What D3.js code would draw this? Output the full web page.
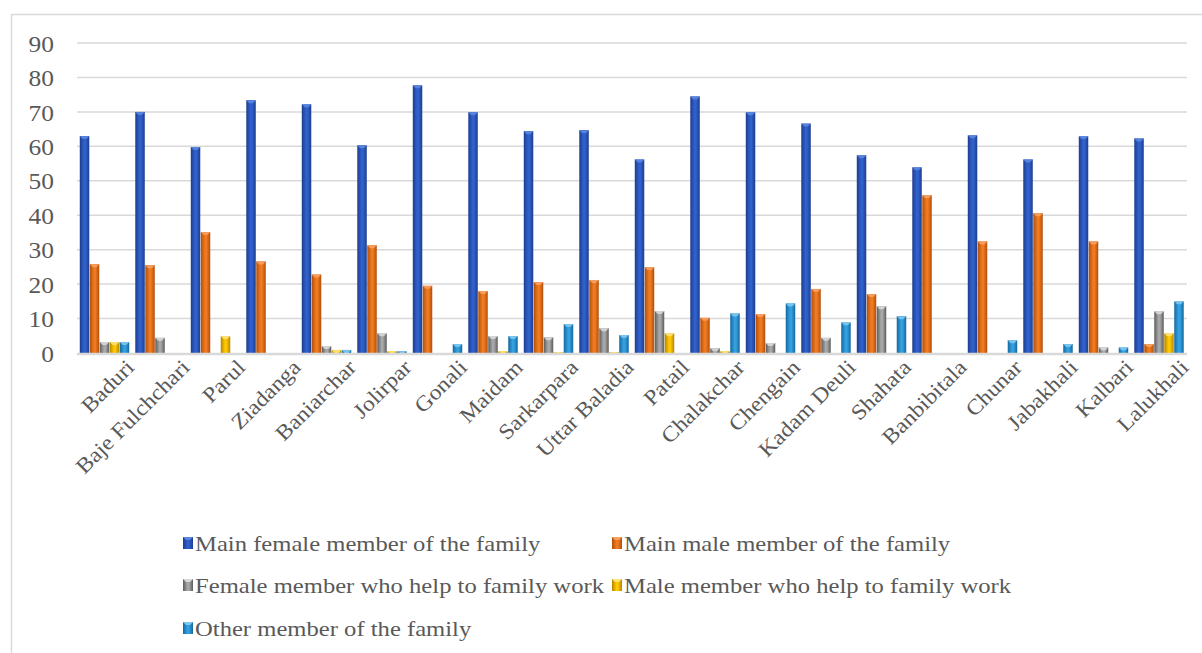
<!DOCTYPE html>
<html>
<head>
<meta charset="utf-8">
<script src="https://cdn.jsdelivr.net/npm/d3@7"></script>
<style>
  html, body { margin: 0; padding: 0; background: #fff; }
  svg { display: block; }
  text { font-family: "Liberation Serif", "DejaVu Serif", serif; fill: #595959; }
</style>
</head>
<body>
<svg id="chart" width="1202" height="653"></svg>
<script>
// Villages surveyed
const categories = ["Baduri", "Baje Fulchchari", "Parul", "Ziadanga", "Baniarchar", "Jolirpar",
  "Gonali", "Maidam", "Sarkarpara", "Uttar Baladia", "Patail", "Chalakchar", "Chengain",
  "Kadam Deuli", "Shahata", "Banbibitala", "Chunar", "Jabakhali", "Kalbari", "Lalukhali"];

// Share (%) of each family member type, one value per village
const mainFemale = [63.0, 70.0, 59.8, 73.4, 72.2, 60.3, 77.7, 69.9, 64.4, 64.7, 56.2, 74.5, 69.9, 66.6, 57.4, 53.9, 63.2, 56.2, 62.9, 62.3];
const mainMale   = [25.8, 25.5, 35.1, 26.6, 22.8, 31.3, 19.5, 18.0, 20.6, 21.2, 24.9, 10.2, 11.3, 18.6, 17.1, 45.8, 32.4, 40.6, 32.4, 2.6];
const femaleHelp = [3.2, 4.4, 0, 0, 2.0, 5.7, 0, 4.9, 4.6, 7.2, 12.2, 1.4, 2.9, 4.4, 13.6, 0, 0, 0, 1.6, 12.1];
const maleHelp   = [3.2, 0, 4.9, 0, 0.9, 0.5, 0, 0.5, 0.2, 0.2, 5.7, 0.5, 0, 0, 0, 0, 0, 0, 0, 5.7];
const otherMember = [3.2, 0, 0, 0, 0.9, 0.5, 2.6, 4.9, 8.4, 5.2, 0, 11.5, 14.4, 8.9, 10.7, 0, 3.7, 2.6, 1.6, 15.0];

const seriesNames = ["Main female member of the family", "Main male member of the family",
  "Female member who help to family work", "Male member who help to family work",
  "Other member of the family"];
const seriesValues = [mainFemale, mainMale, femaleHelp, maleHelp, otherMember];

const yTicks = [0, 10, 20, 30, 40, 50, 60, 70, 80, 90];

// colours: [edge, centre, cap]
const palette = [
  ["#1d3d8c", "#3060cc", "#5a86e0"],
  ["#b04f0c", "#f07a20", "#f7a060"],
  ["#5c5c5c", "#a8a8a8", "#d8d8d8"],
  ["#b38600", "#ffc800", "#ffe27a"],
  ["#16679e", "#33a0e0", "#7cc6f0"]
];

const svg = d3.select("#chart");
const plot = { left: 77, right: 1187, top: 43, bottom: 353 };

// Outer chart frame
svg.append("rect")
  .attr("x", 11.5).attr("y", 14.5)
  .attr("width", 1200).attr("height", 700)
  .attr("fill", "none").attr("stroke", "#d9d9d9").attr("stroke-width", 1.5);

const defs = svg.append("defs");
palette.forEach((c, i) => {
  const g = defs.append("linearGradient").attr("id", "grad" + i)
    .attr("x1", "0").attr("x2", "1").attr("y1", "0").attr("y2", "0");
  g.append("stop").attr("offset", "0%").attr("stop-color", c[0]);
  g.append("stop").attr("offset", "45%").attr("stop-color", c[1]);
  g.append("stop").attr("offset", "60%").attr("stop-color", c[1]);
  g.append("stop").attr("offset", "100%").attr("stop-color", c[0]);
});

const x0 = d3.scaleBand().domain(categories)
  .range([plot.left, plot.right]).paddingInner(0.1).paddingOuter(0.05);
const x1 = d3.scaleBand().domain(d3.range(seriesNames.length))
  .range([0, x0.bandwidth()]).padding(0);
const y = d3.scaleLinear().domain([0, 90]).range([plot.bottom, plot.top]);

// Gridlines
svg.append("g").selectAll("line").data(yTicks.filter(t => t > 0)).join("line")
  .attr("x1", plot.left).attr("x2", plot.right)
  .attr("y1", d => y(d)).attr("y2", d => y(d))
  .attr("stroke", "#d9d9d9").attr("stroke-width", 1.5);

// Y axis labels
const yAxis = d3.axisLeft(y).tickValues(yTicks).tickSize(0).tickPadding(0);
const yg = svg.append("g").attr("transform", `translate(54,0)`).call(yAxis);
yg.select(".domain").remove();
yg.selectAll("text")
  .style("font-family", "'Liberation Serif', serif")
  .style("font-size", "24px")
  .style("fill", "#595959")
  .attr("transform", "scale(1.06,1)")
  .attr("dy", "0.34em");

// Bars
const groups = svg.append("g").selectAll("g").data(categories).join("g")
  .attr("transform", d => `translate(${x0(d)},0)`);

groups.each(function(cat, ci) {
  const g = d3.select(this);
  seriesValues.forEach((vals, si) => {
    const v = vals[ci];
    if (!v) return;
    const bx = x1(si), bw = x1.bandwidth() - 0.5;
    const top = y(v), h = y(0) - y(v);
    g.append("rect")
      .attr("x", bx).attr("y", top)
      .attr("width", bw).attr("height", h)
      .attr("fill", `url(#grad${si})`);
    // bevelled top
    const cap = Math.min(3, h);
    g.append("path")
      .attr("d", `M${bx},${top} L${bx + bw},${top} L${bx + bw * 0.7},${top + cap} L${bx + bw * 0.3},${top + cap} Z`)
      .attr("fill", palette[si][2]).attr("opacity", 0.9);
  });
});

// Baseline
svg.append("line")
  .attr("x1", plot.left).attr("x2", plot.right)
  .attr("y1", y(0) + 1).attr("y2", y(0) + 1)
  .attr("stroke", "#d9d9d9").attr("stroke-width", 2.5);

// Category labels, rotated
svg.append("g").selectAll("text").data(categories).join("text")
  .attr("transform", d => `translate(${x0(d) + x0.bandwidth() / 2 + 20},${plot.bottom + 5}) rotate(-45) scale(1.1,1)`)
  .attr("text-anchor", "end")
  .attr("dy", "0.7em")
  .style("font-size", "21.5px")
  .text(d => d);

// Legend
const legendItems = [
  { i: 0, x: 183, y: 543 },
  { i: 1, x: 612, y: 543 },
  { i: 2, x: 183, y: 585 },
  { i: 3, x: 612, y: 585 },
  { i: 4, x: 183, y: 628 }
];
const lg = svg.append("g").selectAll("g").data(legendItems).join("g")
  .attr("transform", d => `translate(${d.x},${d.y})`);
lg.append("rect")
  .attr("x", 0).attr("y", -6).attr("width", 10).attr("height", 12)
  .attr("fill", d => `url(#grad${d.i})`);
lg.append("path")
  .attr("d", "M0,-6 L10,-6 L7,-3 L3,-3 Z")
  .attr("fill", d => palette[d.i][2]);
lg.append("text")
  .attr("transform", "translate(12,0) scale(1.12,1)")
  .attr("dy", "0.35em")
  .style("font-size", "22px")
  .text(d => seriesNames[d.i]);
</script>
</body>
</html>
